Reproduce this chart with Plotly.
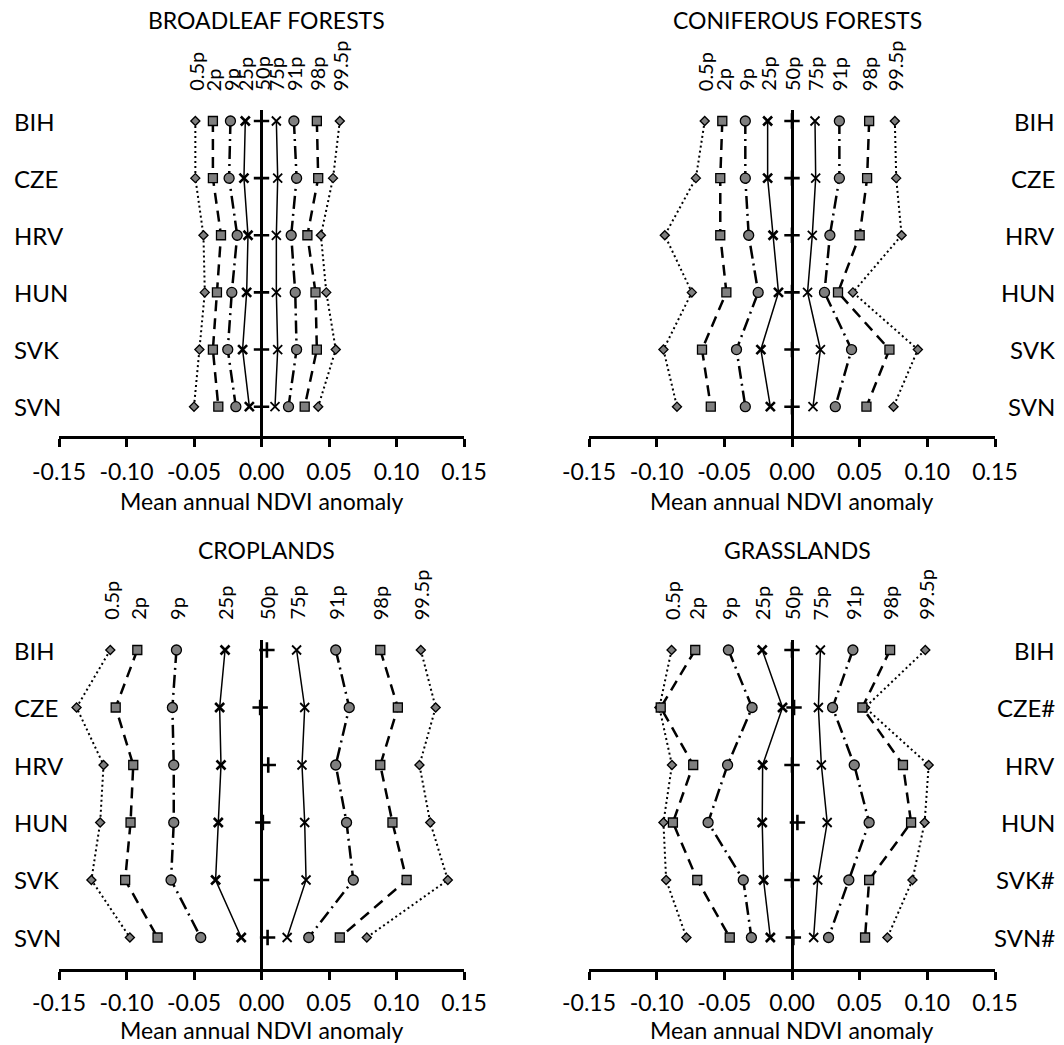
import plotly.graph_objects as go

# Row labels and percentile names
countries = ["BIH", "CZE", "HRV", "HUN", "SVK", "SVN"]
grass_countries = ["BIH", "CZE#", "HRV", "HUN", "SVK#", "SVN#"]
percentiles = ["0.5p", "2p", "9p", "25p", "50p", "75p", "91p", "98p", "99.5p"]
x_tick_values = [-0.15, -0.10, -0.05, 0.0, 0.05, 0.10, 0.15]
x_tick_labels = ["-0.15", "-0.10", "-0.05", "0.00", "0.05", "0.10", "0.15"]

# Mean annual NDVI anomaly per country (rows) and percentile (columns)
broadleaf = [
    [-0.049, -0.036, -0.023, -0.012, 0.000, 0.011, 0.024, 0.041, 0.058],
    [-0.049, -0.036, -0.024, -0.013, 0.000, 0.012, 0.026, 0.042, 0.053],
    [-0.043, -0.030, -0.018, -0.010, 0.000, 0.011, 0.022, 0.034, 0.044],
    [-0.042, -0.033, -0.022, -0.011, 0.000, 0.011, 0.025, 0.040, 0.048],
    [-0.046, -0.036, -0.025, -0.014, 0.000, 0.012, 0.026, 0.041, 0.055],
    [-0.050, -0.032, -0.019, -0.009, 0.000, 0.010, 0.020, 0.032, 0.042],
]
coniferous = [
    [-0.0645, -0.0515, -0.0345, -0.018, 0.000, 0.017, 0.035, 0.057, 0.076],
    [-0.071, -0.053, -0.0345, -0.018, 0.000, 0.0175, 0.035, 0.0555, 0.077],
    [-0.094, -0.053, -0.032, -0.014, 0.000, 0.015, 0.028, 0.050, 0.081],
    [-0.074, -0.0485, -0.025, -0.010, 0.000, 0.0115, 0.024, 0.034, 0.045],
    [-0.095, -0.0665, -0.041, -0.023, 0.000, 0.021, 0.044, 0.072, 0.093],
    [-0.085, -0.060, -0.0345, -0.016, 0.000, 0.0155, 0.032, 0.055, 0.075],
]
croplands = [
    [-0.112, -0.092, -0.063, -0.027, 0.004, 0.026, 0.055, 0.088, 0.118],
    [-0.137, -0.108, -0.066, -0.031, -0.001, 0.032, 0.065, 0.101, 0.129],
    [-0.117, -0.095, -0.065, -0.030, 0.005, 0.030, 0.055, 0.088, 0.117],
    [-0.1195, -0.097, -0.065, -0.032, 0.001, 0.032, 0.063, 0.097, 0.125],
    [-0.126, -0.101, -0.067, -0.034, 0.000, 0.033, 0.068, 0.1075, 0.138],
    [-0.0975, -0.077, -0.045, -0.015, 0.0045, 0.019, 0.035, 0.058, 0.078],
]
grasslands = [
    [-0.089, -0.0715, -0.047, -0.022, 0.000, 0.021, 0.045, 0.0725, 0.0985],
    [-0.098, -0.097, -0.0295, -0.007, 0.0015, 0.0195, 0.030, 0.052, 0.054],
    [-0.0887, -0.073, -0.0476, -0.0217, 0.000, 0.0217, 0.046, 0.082, 0.101],
    [-0.095, -0.088, -0.062, -0.022, 0.004, 0.026, 0.057, 0.088, 0.098],
    [-0.093, -0.070, -0.036, -0.021, 0.000, 0.019, 0.042, 0.057, 0.089],
    [-0.078, -0.046, -0.030, -0.016, 0.001, 0.016, 0.027, 0.054, 0.0705],
]

FONT = "Lato, 'Open Sans', sans-serif"
GRAY = "#7f7f7f"
W, H = 1064, 1045

# Line/marker style per percentile column
def style(j):
    if j in (0, 8):
        return dict(line=dict(color="black", width=2, dash="2px,3px"),
                    marker=dict(symbol="diamond", size=7, color=GRAY,
                                line=dict(color="black", width=1.3)))
    if j in (1, 7):
        return dict(line=dict(color="black", width=2.5, dash="11px,7px"),
                    marker=dict(symbol="square", size=9, color=GRAY,
                                line=dict(color="black", width=1.3)))
    if j in (2, 6):
        return dict(line=dict(color="black", width=2.5, dash="13px,5px,2px,5px"),
                    marker=dict(symbol="circle", size=10, color=GRAY,
                                line=dict(color="black", width=1.3)))
    if j in (3, 5):
        return dict(line=dict(color="black", width=1.5),
                    marker=dict(symbol="x-thin", size=9, color="black",
                                line=dict(color="black", width=2.6 if j == 3 else 1.8)))
    return dict(marker=dict(symbol="cross-thin", size=11, color="black",
                            line=dict(color="black", width=2.6)))


left_dom = [59 / W, 464 / W]
right_dom = [589 / W, 995 / W]
top_dom = [1 - 436 / H, 1 - 110 / H]
bot_dom = [1 - 969 / H, 1 - 640 / H]

panels = [
    ("BROADLEAF FORESTS", broadleaf, countries, "", left_dom, top_dom, "left", [5.513, -0.1925]),
    ("CONIFEROUS FORESTS", coniferous, countries, "2", right_dom, top_dom, "right", [5.513, -0.1925]),
    ("CROPLANDS", croplands, countries, "3", left_dom, bot_dom, "left", [5.548, -0.174]),
    ("GRASSLANDS", grasslands, grass_countries, "4", right_dom, bot_dom, "right", [5.548, -0.174]),
]

fig = go.Figure()
annotations = []
layout = dict(width=W, height=H,
              margin=dict(l=0, r=0, t=0, b=0, autoexpand=False),
              paper_bgcolor="white", plot_bgcolor="white", showlegend=False,
              font=dict(family=FONT, color="black"))

draw_order = [0, 8, 1, 7, 2, 6, 3, 5, 4]
for title, data, labels, sfx, xdom, ydom, side, yrange in panels:
    xa, ya = "x" + sfx, "y" + sfx
    is_left = side == "left"
    is_top = ydom is top_dom
    rows = list(range(len(labels)))
    for j in draw_order:
        xs = [row[j] for row in data]
        st = style(j)
        fig.add_trace(go.Scatter(
            x=xs, y=rows, xaxis=xa, yaxis=ya,
            mode="markers" if j == 4 else "lines+markers",
            cliponaxis=False, hoverinfo="skip", **st))
        annotations.append(dict(
            x=data[0][j], y=0, xref=xa, yref=ya, text=percentiles[j],
            textangle=-90, showarrow=False, xanchor="center", yanchor="bottom",
            yshift=28, font=dict(size=20, family=FONT, color="black")))
    layout["xaxis" + sfx] = dict(
        domain=xdom, anchor=ya, range=[-0.15, 0.15], automargin=False,
        tickvals=x_tick_values, ticktext=x_tick_labels,
        showline=True, linecolor="black", linewidth=2.5,
        ticks="outside", ticklen=8, tickwidth=2.5, tickcolor="black",
        ticklabelstandoff=6 if is_top else 4,
        tickfont=dict(size=23, family=FONT, color="black"),
        showgrid=False, zeroline=True, zerolinecolor="black", zerolinewidth=3,
        fixedrange=True)
    layout["yaxis" + sfx] = dict(
        domain=ydom, anchor=xa, range=yrange, visible=False, automargin=False,
        showgrid=False, zeroline=False, fixedrange=True)

    # panel title, axis title and country labels
    top_px = 110 if is_top else 640
    annotations.append(dict(
        x=(266 if is_left else 797) / W, y=1 - (top_px - 90) / H,
        xref="paper", yref="paper", text=title, showarrow=False,
        xanchor="center", yanchor="middle",
        font=dict(size=23, family=FONT, color="black")))
    annotations.append(dict(
        x=(xdom[0] + xdom[1]) / 2, y=(1 - 517 / H) if is_top else -1 / H,
        xref="paper", yref="paper", text="Mean annual NDVI anomaly",
        showarrow=False, xanchor="center", yanchor="bottom",
        font=dict(size=23, family=FONT, color="black")))
    for i, lab in enumerate(labels):
        annotations.append(dict(
            x=(11.5 if is_left else 1057) / W, y=i, xref="paper", yref=ya,
            text=lab, showarrow=False, xanchor="left" if is_left else "right",
            yanchor="middle", font=dict(size=24, family=FONT, color="black")))

layout["annotations"] = annotations
fig.update_layout(**layout)
fig.write_html("out.html")
